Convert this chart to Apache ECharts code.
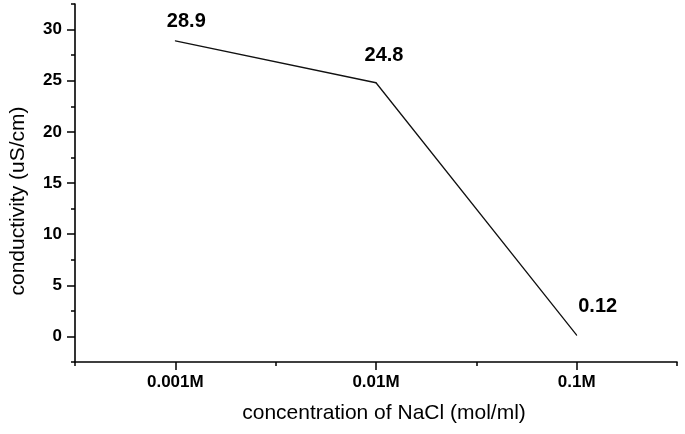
<!DOCTYPE html>
<html>
<head>
<meta charset="utf-8">
<script src="https://cdn.jsdelivr.net/npm/echarts@6/dist/echarts.min.js"></script>
<style>
  html, body { margin: 0; padding: 0; background: #fff; }
  #chart { width: 685px; height: 434px; }
</style>
</head>
<body>
<div id="chart"></div>
<script>
// data
const categories = ['0.001M', '0.01M', '0.1M']
const conductivity = [28.9, 24.8, 0.12]
const yMajorTicks = [0, 5, 10, 15, 20, 25, 30]
const yMinorTicks = [-2.5, 2.5, 7.5, 12.5, 17.5, 22.5, 27.5, 32.5]
// where each value label sits relative to its point (px)
const labelOffsets = [[11, -19], [8, -27], [21, -29]]

const font = '"Liberation Sans", Arial, sans-serif'
const chart = echarts.init(document.getElementById('chart'))

chart.setOption({
  animation: false,
  grid: { left: 71, right: 8, top: 4, bottom: 72 },
  xAxis: [{
    type: 'category',
    data: categories,
    boundaryGap: true,
    name: 'concentration of NaCl (mol/ml)',
    nameLocation: 'middle',
    nameGap: 41,
    nameTextStyle: { fontFamily: font, fontSize: 21, color: '#000', padding: [0, 0, 0, 16] },
    axisLine: { onZero: false, lineStyle: { color: '#000', width: 1.6 } },
    axisTick: { show: true, inside: false, length: 4, lineStyle: { color: '#000', width: 1.5 } },
    axisLabel: { show: false },
    splitLine: { show: false }
  }, {
    type: 'category',
    data: categories,
    position: 'bottom',
    boundaryGap: true,
    axisLine: { show: false, onZero: false },
    axisTick: { show: true, alignWithLabel: true, length: 8, lineStyle: { color: '#000', width: 1.5 } },
    axisLabel: { margin: 12, fontFamily: font, fontSize: 17, fontWeight: 'bold', color: '#000' },
    splitLine: { show: false }
  }],
  yAxis: [{
    type: 'value',
    min: -2.5,
    max: 32.5,
    name: 'conductivity (uS/cm)',
    nameLocation: 'middle',
    nameGap: 46,
    nameTextStyle: { fontFamily: font, fontSize: 21, color: '#000', padding: [0, 36, 0, 0] },
    axisLine: { show: true, onZero: false, lineStyle: { color: '#000', width: 1.6 } },
    axisTick: { show: true, length: 4, customValues: yMinorTicks, lineStyle: { color: '#000', width: 1.5 } },
    axisLabel: { show: false },
    splitLine: { show: false }
  }, {
    type: 'value',
    min: -2.5,
    max: 32.5,
    position: 'left',
    axisLine: { show: false, onZero: false },
    axisTick: { show: true, length: 8, customValues: yMajorTicks, lineStyle: { color: '#000', width: 1.5 } },
    axisLabel: { customValues: yMajorTicks, margin: 13, fontFamily: font, fontSize: 17, fontWeight: 'bold', color: '#000' },
    splitLine: { show: false }
  }],
  series: [{
    type: 'line',
    xAxisIndex: 0,
    yAxisIndex: 0,
    symbol: 'circle',
    symbolSize: 1,
    itemStyle: { color: '#111' },
    lineStyle: { color: '#111', width: 1.3 },
    data: conductivity.map((v, i) => ({
      value: v,
      label: {
        show: true,
        position: 'inside',
        offset: labelOffsets[i],
        formatter: String(v),
        fontFamily: font,
        fontSize: 20,
        fontWeight: 'bold',
        color: '#000'
      }
    }))
  }]
})
</script>
</body>
</html>
